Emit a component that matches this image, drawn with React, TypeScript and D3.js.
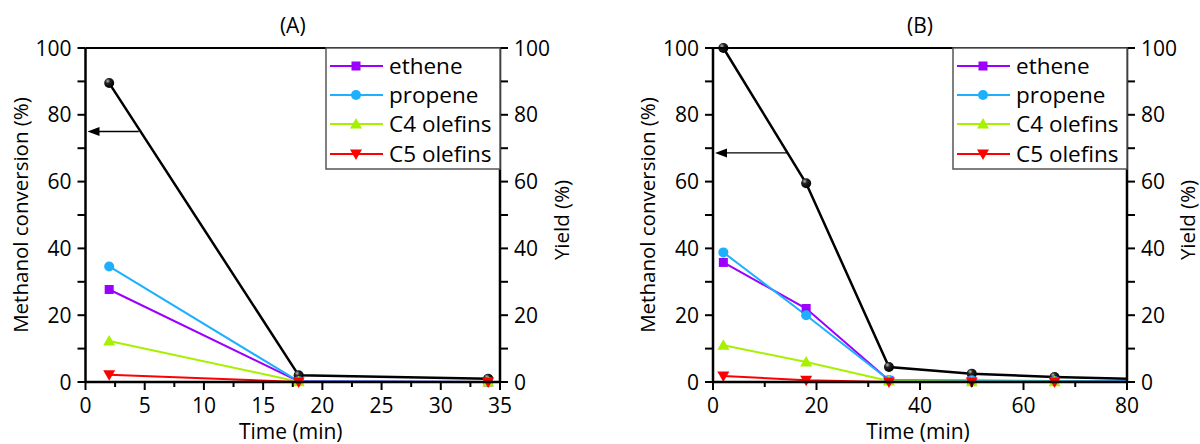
import React from "react";
import * as d3 from "d3";

// ---------- data ----------
const timeA = [2, 18, 34];
const conversionA = [89.5, 2.0, 1.0];
const etheneA = [27.7, 0.2, 0];
const propeneA = [34.6, 0.2, 0];
const c4A = [12.3, 0.1, 0];
const c5A = [2.2, 0, 0];

const timeB = [2, 18, 34, 50, 66, 82];
const conversionB = [100, 59.5, 4.5, 2.5, 1.5, 0.9];
const etheneB = [35.8, 22.0, 0.5, 0.3, 0.2, 0.1];
const propeneB = [38.8, 20.0, 0.6, 0.5, 0.3, 0.2];
const c4B = [11.0, 6.0, 0.3, 0.1, 0.1, 0];
const c5B = [1.8, 0.5, 0, 0, 0, 0];

const xTicksA = [0, 5, 10, 15, 20, 25, 30, 35];
const xMinorA = [2.5, 7.5, 12.5, 17.5, 22.5, 27.5, 32.5];
const xTicksB = [0, 20, 40, 60, 80];
const xMinorB = [10, 30, 50, 70];
const yTicks = [0, 20, 40, 60, 80, 100];
const yMinor = [10, 30, 50, 70, 90];

const seriesNames = ["ethene", "propene", "C4 olefins", "C5 olefins"];
const seriesColors = ["#9B00FF", "#1EB0FF", "#A6F000", "#FF0000"];
const seriesShapes = ["square", "circle", "triangle", "triangleDown"];

const FONT = "'Open Sans', 'Noto Sans', sans-serif";

function Marker({ shape, x, y, color }: { shape: string; x: number; y: number; color: string }) {
  if (shape === "square") return <rect x={x - 4.5} y={y - 4.5} width={9} height={9} fill={color} />;
  if (shape === "circle") return <circle cx={x} cy={y} r={5} fill={color} />;
  if (shape === "triangle")
    return <path d={`M${x},${y - 6} L${x + 6},${y + 4.5} L${x - 6},${y + 4.5} Z`} fill={color} />;
  if (shape === "triangleDown")
    return <path d={`M${x},${y + 6} L${x + 6},${y - 4.5} L${x - 6},${y - 4.5} Z`} fill={color} />;
  return null;
}

type PanelProps = {
  id: string;
  title: string;
  x0: number;
  x1: number;
  xDomain: [number, number];
  xTicks: number[];
  xMinor: number[];
  time: number[];
  conversion: number[];
  series: number[][];
  arrowValue: number;
  arrowStart: number;
  legendLeft: number;
  yieldLabelX: number;
  convLabelX: number;
};

function Panel(p: PanelProps) {
  const top = 48;
  const bottom = 382;
  const x = d3.scaleLinear().domain(p.xDomain).range([p.x0, p.x1]);
  const y = d3.scaleLinear().domain([0, 100]).range([bottom, top]);
  const line = d3
    .line<[number, number]>()
    .x((d) => x(d[0]))
    .y((d) => y(d[1]));
  const clipId = `clip-${p.id}`;
  const pts = (vals: number[]) => p.time.map((t, i) => [t, vals[i]] as [number, number]);
  const inside = (t: number) => t >= p.xDomain[0] && t <= p.xDomain[1];
  const legendRight = p.x1;
  const legendBottom = 169;
  const rowY = [66, 95, 124, 154];

  return (
    <g>
      <defs>
        <clipPath id={clipId}>
          <rect x={p.x0} y={top - 10} width={p.x1 - p.x0} height={bottom - top + 20} />
        </clipPath>
        <radialGradient id={`sph-${p.id}`} cx="0.35" cy="0.3" r="0.7">
          <stop offset="0" stopColor="#bbbbbb" />
          <stop offset="0.35" stopColor="#222" />
          <stop offset="1" stopColor="#000" />
        </radialGradient>
      </defs>
      {/* title */}
      <text x={(p.x0 + p.x1) / 2} y={33} textAnchor="middle" fontFamily={FONT} fontSize={21} fill="#000">
        {p.title}
      </text>

      {/* data lines */}
      <g clipPath={`url(#${clipId})`}>
        <path d={line(pts(p.conversion)) || ""} fill="none" stroke="#000" strokeWidth={2.5} />
        {p.series.map((s, i) => (
          <path key={i} d={line(pts(s)) || ""} fill="none" stroke={seriesColors[i]} strokeWidth={2} />
        ))}
      </g>
      {/* markers */}
      {p.time.map((t, i) =>
        inside(t) ? (
          <circle key={`c${i}`} cx={x(t)} cy={y(p.conversion[i])} r={5} fill={`url(#sph-${p.id})`} />
        ) : null
      )}
      {p.series.map((s, si) =>
        p.time.map((t, i) =>
          inside(t) ? (
            <Marker key={`m${si}-${i}`} shape={seriesShapes[si]} x={x(t)} y={y(s[i])} color={seriesColors[si]} />
          ) : null
        )
      )}

      {/* arrow */}
      <line
        x1={x(p.arrowStart)}
        x2={p.x0 + 10}
        y1={y(p.arrowValue)}
        y2={y(p.arrowValue)}
        stroke="#000"
        strokeWidth={1.3}
      />
      <path
        d={`M${p.x0 + 2},${y(p.arrowValue)} L${p.x0 + 14},${y(p.arrowValue) - 4.5} L${p.x0 + 14},${y(p.arrowValue) + 4.5} Z`}
        fill="#000"
      />

      {/* frame */}
      <line x1={p.x0} x2={p.x1} y1={top} y2={top} stroke="#000" strokeWidth={2} />
      <line x1={p.x0} x2={p.x1} y1={bottom} y2={bottom} stroke="#000" strokeWidth={2.5} />
      <line x1={p.x0} x2={p.x0} y1={top} y2={bottom + 1} stroke="#000" strokeWidth={2.5} />
      <line x1={p.x1} x2={p.x1} y1={top} y2={bottom + 1} stroke="#000" strokeWidth={2.5} />

      {/* y ticks */}
      {yTicks.map((v) => (
        <g key={`y${v}`}>
          <line x1={p.x0 - 8} x2={p.x0} y1={y(v)} y2={y(v)} stroke="#000" strokeWidth={2} />
          <line x1={p.x1} x2={p.x1 + 8} y1={y(v)} y2={y(v)} stroke="#000" strokeWidth={2} />
          <text x={p.x0 - 14} y={y(v) + 7.5} textAnchor="end" fontFamily={FONT} fontSize={21} fill="#000">
            {v}
          </text>
          <text x={p.x1 + 14} y={y(v) + 7.5} textAnchor="start" fontFamily={FONT} fontSize={21} fill="#000">
            {v}
          </text>
        </g>
      ))}
      {yMinor.map((v) => (
        <g key={`ym${v}`}>
          <line x1={p.x0 - 8} x2={p.x0} y1={y(v)} y2={y(v)} stroke="#000" strokeWidth={2} />
          <line x1={p.x1} x2={p.x1 + 8} y1={y(v)} y2={y(v)} stroke="#000" strokeWidth={2} />
        </g>
      ))}
      {/* x ticks */}
      {p.xTicks.map((v) => (
        <g key={`x${v}`}>
          <line x1={x(v)} x2={x(v)} y1={bottom} y2={bottom + 8} stroke="#000" strokeWidth={2} />
          <text x={x(v)} y={bottom + 31} textAnchor="middle" fontFamily={FONT} fontSize={21} fill="#000">
            {v}
          </text>
        </g>
      ))}
      {p.xMinor.map((v) => (
        <line key={`xm${v}`} x1={x(v)} x2={x(v)} y1={bottom} y2={bottom + 5} stroke="#000" strokeWidth={2} />
      ))}

      {/* axis labels */}
      <text x={(p.x0 + p.x1) / 2 - 2} y={439} textAnchor="middle" fontFamily={FONT} fontSize={21} fill="#000">
        Time (min)
      </text>
      <text
        transform={`translate(${p.convLabelX},${(top + bottom) / 2}) rotate(-90)`}
        textAnchor="middle"
        fontFamily={FONT}
        fontSize={20.5}
        fill="#000"
      >
        Methanol conversion (%)
      </text>
      <text
        transform={`translate(${p.yieldLabelX},${(top + bottom) / 2 + 5}) rotate(-90)`}
        textAnchor="middle"
        fontFamily={FONT}
        fontSize={20.5}
        fill="#000"
      >
        Yield (%)
      </text>

      {/* legend */}
      <rect
        x={p.legendLeft}
        y={top}
        width={legendRight - p.legendLeft}
        height={legendBottom - top}
        fill="#fff"
        stroke="#555"
        strokeWidth={1.5}
      />
      {seriesNames.map((n, i) => (
        <g key={n}>
          <line
            x1={p.legendLeft + 4}
            x2={p.legendLeft + 57}
            y1={rowY[i]}
            y2={rowY[i]}
            stroke={seriesColors[i]}
            strokeWidth={2}
          />
          <Marker shape={seriesShapes[i]} x={p.legendLeft + 30} y={rowY[i]} color={seriesColors[i]} />
          <text x={p.legendLeft + 63} y={rowY[i] + 8} fontFamily={FONT} fontSize={22.5} fill="#000">
            {n}
          </text>
        </g>
      ))}
    </g>
  );
}

export default function App() {
  return (
    <svg
      width={1200}
      height={444}
      style={{ position: "absolute", left: 0, top: 0, background: "#fff" }}
    >
      <rect width={1200} height={444} fill="#fff" />
      <Panel
        id="a"
        title="(A)"
        x0={85.5}
        x1={500}
        xDomain={[0, 35]}
        xTicks={xTicksA}
        xMinor={xMinorA}
        time={timeA}
        conversion={conversionA}
        series={[etheneA, propeneA, c4A, c5A]}
        arrowValue={75}
        arrowStart={4.5}
        legendLeft={326}
        yieldLabelX={569}
        convLabelX={28}
      />
      <Panel
        id="b"
        title="(B)"
        x0={713}
        x1={1127}
        xDomain={[0, 80]}
        xTicks={xTicksB}
        xMinor={xMinorB}
        time={timeB}
        conversion={conversionB}
        series={[etheneB, propeneB, c4B, c5B]}
        arrowValue={68.6}
        arrowStart={14.4}
        legendLeft={953}
        yieldLabelX={1195}
        convLabelX={655}
      />
    </svg>
  );
}
